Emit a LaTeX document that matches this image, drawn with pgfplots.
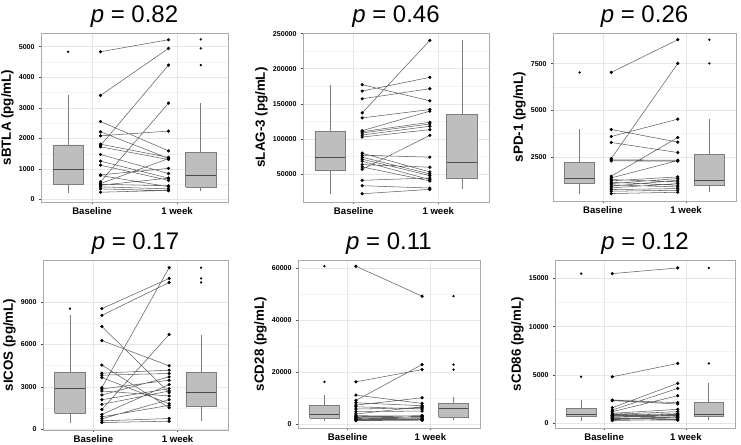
\documentclass[border=0pt]{standalone}
\usepackage{fontspec}
\setmainfont{Liberation Sans}
\usepackage{pgfplots}
\pgfplotsset{compat=1.18}
\definecolor{boxfill}{RGB}{190,190,190}
\definecolor{boxdraw}{RGB}{125,125,125}
\definecolor{medcol}{RGB}{75,75,75}
\definecolor{bordercol}{RGB}{170,170,170}
\definecolor{gridcol}{RGB}{230,230,230}
\definecolor{minorcol}{RGB}{243,243,243}
\definecolor{linecol}{RGB}{95,95,95}
\definecolor{tickcol}{RGB}{80,80,80}
\pgfplotsset{
 panel/.style={scale only axis, anchor=north west, scaled y ticks=false,
  xmin=0.4, xmax=2.6, xtick={1,2}, xticklabels={Baseline,1 week},
  axis line style={draw=bordercol, line width=0.6pt},
  tick pos=left, tick align=outside, major tick length=1.8pt, minor tick length=0pt,
  every tick/.style={draw=tickcol, line width=0.4pt},
  xmajorgrids, ymajorgrids, yminorgrids, minor y tick num=1,
  major grid style={draw=gridcol, line width=0.45pt},
  minor grid style={draw=minorcol, line width=0.3pt},
  xticklabel style={font=\fontsize{7.2}{8}\selectfont\bfseries, text=black, yshift=1pt},
  yticklabel style={font=\fontsize{5.3}{6}\selectfont\bfseries, text=black, xshift=0.5pt},
  ylabel style={font=\fontsize{10}{12}\selectfont\bfseries, yshift=-3pt},
  every axis title/.style={at={(0.5,1)}, anchor=base, yshift=7.5pt, font=\fontsize{18}{20}\selectfont},
 },
 wh/.style={draw=boxdraw, line width=0.5pt, mark=none},
 bxf/.style={draw=boxdraw, fill=boxfill, line width=0.5pt, mark=none},
 md/.style={draw=medcol, line width=0.9pt, mark=none},
 ol/.style={only marks, mark=*, mark size=0.65pt, mark options={draw=black, fill=black}},
 pr/.style={draw=linecol, line width=0.4pt, mark=*, mark size=1pt,
  mark options={draw=black, fill=black, solid}, unbounded coords=jump},
}
% box at Baseline (x=0.72): lower whisker, Q1, median, Q3, upper whisker
\newcommand{\boxL}[5]{%
 \addplot[wh] coordinates {(0.72,#1)(0.72,#5)};
 \addplot[bxf] coordinates {(0.54,#2)(0.90,#2)(0.90,#4)(0.54,#4)(0.54,#2)};
 \addplot[md] coordinates {(0.54,#3)(0.90,#3)};}
% box at 1 week (x=2.28)
\newcommand{\boxR}[5]{%
 \addplot[wh] coordinates {(2.28,#1)(2.28,#5)};
 \addplot[bxf] coordinates {(2.10,#2)(2.46,#2)(2.46,#4)(2.10,#4)(2.10,#2)};
 \addplot[md] coordinates {(2.10,#3)(2.46,#3)};}
\begin{document}
\begin{tikzpicture}
\path[use as bounding box] (0,0) rectangle (555.75pt,333.75pt);
% ---------- Panel 1: sBTLA (pg/mL)
\begin{axis}[panel, at={(30.75pt,309pt)}, width=140.25pt, height=126.75pt,
 ymin=-80, ymax=5450, ytick={0,1000,2000,3000,4000,5000}, yticklabels={0,1000,2000,3000,4000,5000},
 ylabel={sBTLA (pg/mL)}, title={\textit{p} = 0.82}]
\boxL{229}{513}{972}{1790}{3406}
\addplot[ol] coordinates {(0.72,4836)};
\boxR{290}{415}{786}{1539}{3166}
\addplot[ol] coordinates {(2.28,4400)(2.28,4945)(2.28,5240)};
\addplot[pr] coordinates {
(1.1,4836)(1.9,5230)(1.5,nan) (1.1,3406)(1.9,4945)(1.5,nan) (1.1,2555)(1.9,1594)(1.5,nan) (1.1,2216)(1.9,1350)(1.5,nan)
(1.1,2085)(1.9,2240)(1.5,nan) (1.1,1812)(1.9,1380)(1.5,nan) (1.1,1769)(1.9,4400)(1.5,nan) (1.1,1725)(1.9,1310)(1.5,nan)
(1.1,1474)(1.9,850)(1.5,nan) (1.1,1255)(1.9,700)(1.5,nan) (1.1,1124)(1.9,630)(1.5,nan) (1.1,808)(1.9,1020)(1.5,nan)
(1.1,786)(1.9,420)(1.5,nan) (1.1,579)(1.9,3155)(1.5,nan) (1.1,524)(1.9,1340)(1.5,nan) (1.1,469)(1.9,700)(1.5,nan)
(1.1,415)(1.9,350)(1.5,nan) (1.1,349)(1.9,290)(1.5,nan) (1.1,240)(1.9,300)(1.5,nan) (1.1,500)(1.9,450)};
\end{axis}
% ---------- Panel 2: sLAG-3, values in thousands of pg/mL
\begin{axis}[panel, at={(227.25pt,309pt)}, width=139.5pt, height=126.75pt,
 ymin=10, ymax=251, ytick={50,100,150,200,250}, yticklabels={50000,100000,150000,200000,250000},
 ylabel={sLAG-3 (pg/mL)}, title={\textit{p} = 0.46}]
\boxL{21.77}{55.74}{72.97}{110.29}{177.27}
\boxR{27.99}{43.30}{66.25}{135.17}{240.43}
\addplot[pr] coordinates {
(1.1,177.27)(1.9,154.31)(1.5,nan) (1.1,168.18)(1.9,187.80)(1.5,nan) (1.1,157.18)(1.9,171.53)(1.5,nan) (1.1,137.08)(1.9,240.43)(1.5,nan)
(1.1,129.90)(1.9,141.87)(1.5,nan) (1.1,111.72)(1.9,139.47)(1.5,nan) (1.1,110.29)(1.9,123.68)(1.5,nan) (1.1,108.37)(1.9,121.29)(1.5,nan)
(1.1,105.50)(1.9,118.00)(1.5,nan) (1.1,102.63)(1.9,113.16)(1.5,nan) (1.1,79.67)(1.9,52.87)(1.5,nan) (1.1,76.79)(1.9,73.92)(1.5,nan)
(1.1,73.92)(1.9,50.00)(1.5,nan) (1.1,71.05)(1.9,47.61)(1.5,nan) (1.1,68.18)(1.9,41.87)(1.5,nan) (1.1,63.40)(1.9,59.57)(1.5,nan)
(1.1,60.05)(1.9,39.95)(1.5,nan) (1.1,56.70)(1.9,105.02)(1.5,nan) (1.1,40.91)(1.9,44.26)(1.5,nan) (1.1,33.25)(1.9,29.90)(1.5,nan)
(1.1,21.77)(1.9,27.99)};
\end{axis}
% ---------- Panel 3: sPD-1 (pg/mL)
\begin{axis}[panel, at={(414.75pt,309pt)}, width=137.25pt, height=126pt,
 ymin=130, ymax=9150, ytick={2500,5000,7500}, yticklabels={2500,5000,7500},
 ylabel={sPD-1 (pg/mL)}, title={\textit{p} = 0.26}]
\boxL{529}{1066}{1317}{2213}{3970}
\addplot[ol] coordinates {(0.72,7034)};
\boxR{600}{976}{1210}{2625}{4525}
\addplot[ol] coordinates {(2.28,7518)(2.28,8790)};
\addplot[pr] coordinates {
(1.1,7034)(1.9,8790)(1.5,nan) (1.1,3970)(1.9,3289)(1.5,nan) (1.1,3593)(1.9,4525)(1.5,nan) (1.1,3271)(1.9,2733)(1.5,nan)
(1.1,2410)(1.9,7518)(1.5,nan) (1.1,2339)(1.9,2321)(1.5,nan) (1.1,2285)(1.9,2267)(1.5,nan) (1.1,1461)(1.9,3539)(1.5,nan)
(1.1,1371)(1.9,2300)(1.5,nan) (1.1,1281)(1.9,1156)(1.5,nan) (1.1,1210)(1.9,1425)(1.5,nan) (1.1,1138)(1.9,976)(1.5,nan)
(1.1,1066)(1.9,1335)(1.5,nan) (1.1,995)(1.9,887)(1.5,nan) (1.1,923)(1.9,1245)(1.5,nan) (1.1,833)(1.9,1066)(1.5,nan)
(1.1,744)(1.9,797)(1.5,nan) (1.1,654)(1.9,708)(1.5,nan) (1.1,529)(1.9,600)};
\end{axis}
% ---------- Panel 4: sICOS (pg/mL)
\begin{axis}[panel, at={(32.25pt,138.75pt)}, width=138.75pt, height=127.5pt,
 ymin=-40, ymax=11960, ytick={0,3000,6000,9000}, yticklabels={0,3000,6000,9000},
 ylabel={sICOS (pg/mL)}, title={\textit{p} = 0.17}]
\boxL{486}{1130}{2880}{4000}{8051}
\addplot[ol] coordinates {(0.72,8526)};
\boxR{581}{1625}{2620}{4050}{6700}
\addplot[ol] coordinates {(2.28,10375)(2.28,10660)(2.28,11419)};
\addplot[pr] coordinates {
(1.1,8526)(1.9,10660)(1.5,nan) (1.1,8051)(1.9,10375)(1.5,nan) (1.1,7269)(1.9,2597)(1.5,nan) (1.1,6273)(1.9,4494)(1.5,nan)
(1.1,4542)(1.9,1530)(1.5,nan) (1.1,3972)(1.9,4186)(1.5,nan) (1.1,3830)(1.9,3949)(1.5,nan) (1.1,3664)(1.9,1814)(1.5,nan)
(1.1,2953)(1.9,11419)(1.5,nan) (1.1,2858)(1.9,3474)(1.5,nan) (1.1,2715)(1.9,2360)(1.5,nan) (1.1,2431)(1.9,3711)(1.5,nan)
(1.1,2099)(1.9,2881)(1.5,nan) (1.1,1767)(1.9,2715)(1.5,nan) (1.1,1411)(1.9,6700)(1.5,nan) (1.1,1055)(1.9,3166)(1.5,nan)
(1.1,889)(1.9,1700)(1.5,nan) (1.1,747)(1.9,2100)(1.5,nan) (1.1,605)(1.9,770)(1.5,nan) (1.1,486)(1.9,581)};
\end{axis}
% ---------- Panel 5: sCD28, values in thousands of pg/mL
\begin{axis}[panel, at={(223.5pt,138.75pt)}, width=136.5pt, height=126pt,
 ymin=-1.4, ymax=63.2, ytick={0,20,40,60}, yticklabels={0,20000,40000,60000},
 ylabel={sCD28 (pg/mL)}, title={\textit{p} = 0.11}]
\boxL{1.42}{2.31}{3.71}{7.16}{11.25}
\addplot[ol] coordinates {(0.72,16.35)(0.72,60.80)};
\boxR{1.60}{2.69}{6.14}{8.05}{10.40}
\addplot[ol] coordinates {(2.28,21.07)(2.28,22.99)(2.28,49.28)};
\addplot[pr] coordinates {
(1.1,60.80)(1.9,49.28)(1.5,nan) (1.1,16.35)(1.9,21.07)(1.5,nan) (1.1,11.25)(1.9,8.05)(1.5,nan) (1.1,9.20)(1.9,22.99)(1.5,nan)
(1.1,8.30)(1.9,7.16)(1.5,nan) (1.1,7.40)(1.9,10.22)(1.5,nan) (1.1,6.78)(1.9,5.89)(1.5,nan) (1.1,5.89)(1.9,6.39)(1.5,nan)
(1.1,4.86)(1.9,5.12)(1.5,nan) (1.1,3.97)(1.9,6.80)(1.5,nan) (1.1,3.33)(1.9,3.20)(1.5,nan) (1.1,3.00)(1.9,2.69)(1.5,nan)
(1.1,2.80)(1.9,3.40)(1.5,nan) (1.1,2.57)(1.9,2.05)(1.5,nan) (1.1,2.30)(1.9,2.90)(1.5,nan) (1.1,2.05)(1.9,1.67)(1.5,nan)
(1.1,2.00)(1.9,2.20)(1.5,nan) (1.1,1.80)(1.9,3.10)(1.5,nan) (1.1,1.67)(1.9,1.80)(1.5,nan) (1.1,1.42)(1.9,1.60)};
\end{axis}
% ---------- Panel 6: sCD86, values in thousands of pg/mL
\begin{axis}[panel, at={(416.25pt,138.75pt)}, width=135pt, height=126pt,
 ymin=-0.49, ymax=16.89, ytick={0,5,10,15}, yticklabels={0,5000,10000,15000},
 ylabel={sCD86 (pg/mL)}, title={\textit{p} = 0.12}]
\boxL{0.280}{0.690}{0.925}{1.510}{2.400}
\addplot[ol] coordinates {(0.72,4.81)(0.72,15.48)};
\boxR{0.310}{0.720}{0.925}{2.130}{4.130}
\addplot[ol] coordinates {(2.28,6.19)(2.28,16.07)};
\addplot[pr] coordinates {
(1.1,15.48)(1.9,16.07)(1.5,nan) (1.1,4.81)(1.9,6.19)(1.5,nan) (1.1,2.40)(1.9,2.13)(1.5,nan) (1.1,2.34)(1.9,1.99)(1.5,nan)
(1.1,1.61)(1.9,4.13)(1.5,nan) (1.1,1.37)(1.9,3.61)(1.5,nan) (1.1,1.20)(1.9,2.85)(1.5,nan) (1.1,1.03)(1.9,1.44)(1.5,nan)
(1.1,0.925)(1.9,1.20)(1.5,nan) (1.1,0.86)(1.9,0.99)(1.5,nan) (1.1,0.82)(1.9,0.72)(1.5,nan) (1.1,0.79)(1.9,0.86)(1.5,nan)
(1.1,0.70)(1.9,0.58)(1.5,nan) (1.1,0.65)(1.9,0.925)(1.5,nan) (1.1,0.60)(1.9,0.80)(1.5,nan) (1.1,0.51)(1.9,0.44)(1.5,nan)
(1.1,0.45)(1.9,0.60)(1.5,nan) (1.1,0.38)(1.9,0.31)(1.5,nan) (1.1,0.28)(1.9,0.40)};
\end{axis}
\end{tikzpicture}
\end{document}
